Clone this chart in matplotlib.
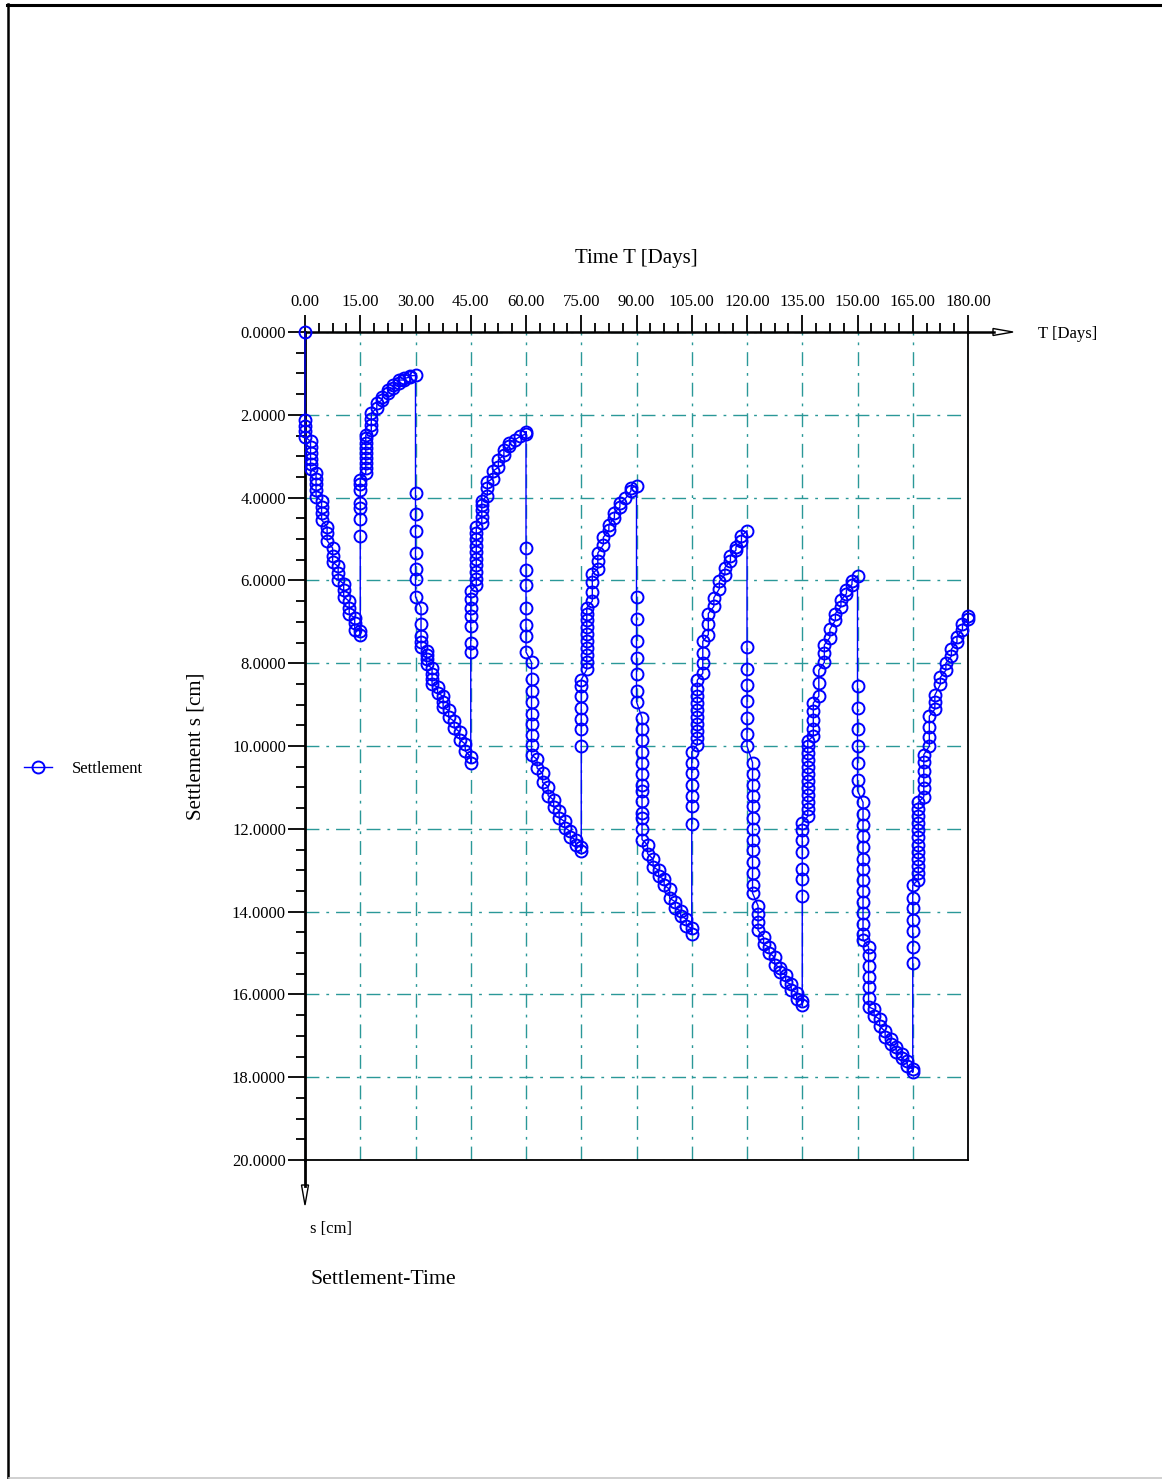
import matplotlib
matplotlib.use("Agg")
import matplotlib.pyplot as plt
from matplotlib.lines import Line2D
from matplotlib.patches import Polygon
from matplotlib.ticker import MultipleLocator, FormatStrFormatter

# ---------------------------------------------------------------------------
# Settlement readings [cm], grouped by time step [days] for each load stage
# ---------------------------------------------------------------------------
loading_1 = {
    0.0: [0.00, 2.13, 2.27, 2.39, 2.53],
    1.5: [2.64, 2.78, 2.92, 3.06, 3.20, 3.30],
    3.0: [3.40, 3.54, 3.68, 3.82, 3.98],
    4.5: [4.08, 4.22, 4.38, 4.54],
    6.0: [4.70, 4.86, 5.04],
    7.5: [5.22, 5.40, 5.56],
    9.0: [5.66, 5.82, 5.98],
    10.5: [6.08, 6.24, 6.40],
    12.0: [6.50, 6.66, 6.82],
    13.5: [6.90, 7.04, 7.20],
    15.0: [7.22, 7.32],
}
unloading_1 = {
    15.0: [4.93, 4.52, 4.26, 4.14, 3.82, 3.66, 3.57],
    16.5: [3.41, 3.29, 3.17, 3.05, 2.93, 2.81, 2.69, 2.57, 2.49],
    18.0: [2.37, 2.25, 2.11, 1.96],
    19.5: [1.84, 1.72],
    21.0: [1.64, 1.56],
    22.5: [1.48, 1.40],
    24.0: [1.36, 1.28],
    25.5: [1.22, 1.16],
    27.0: [1.16, 1.12],
    28.5: [1.09, 1.06],
    30.0: [1.05],
}
loading_2 = {
    30.0: [3.88, 4.40, 4.81, 5.33, 5.73, 5.97, 6.40],
    31.5: [6.66, 7.06, 7.34, 7.48, 7.60],
    33.0: [7.70, 7.80, 7.90, 8.03],
    34.5: [8.12, 8.25, 8.39, 8.51],
    36.0: [8.58, 8.72],
    37.5: [8.80, 8.94, 9.07],
    39.0: [9.14, 9.31],
    40.5: [9.40, 9.56],
    42.0: [9.66, 9.85],
    43.5: [9.95, 10.12],
    45.0: [10.26, 10.40],
}
unloading_2 = {
    45.0: [7.74, 7.50, 7.10, 6.86, 6.66, 6.46, 6.25],
    46.5: [6.12, 5.96, 5.80, 5.64, 5.48, 5.32, 5.16, 5.00, 4.86, 4.72],
    48.0: [4.62, 4.46, 4.30, 4.18, 4.08],
    49.5: [3.95, 3.78, 3.62],
    51.0: [3.54, 3.36],
    52.5: [3.27, 3.08],
    54.0: [2.98, 2.86],
    55.5: [2.76, 2.68],
    57.0: [2.60],
    58.5: [2.52],
    60.0: [2.46, 2.41],
}
loading_3 = {
    60.0: [5.21, 5.74, 6.12, 6.67, 7.08, 7.35, 7.73],
    61.5: [7.98, 8.38, 8.66, 8.94, 9.22, 9.47, 9.73, 9.98, 10.22],
    63.0: [10.32, 10.53],
    64.5: [10.66, 10.88],
    66.0: [10.98, 11.20],
    67.5: [11.30, 11.47],
    69.0: [11.56, 11.74],
    70.5: [11.82, 11.97],
    72.0: [12.06, 12.19],
    73.5: [12.27, 12.40],
    75.0: [12.45, 12.54],
}
unloading_3 = {
    75.0: [10.00, 9.60, 9.34, 9.08, 8.80, 8.54, 8.40],
    76.5: [8.15, 7.98, 7.81, 7.64, 7.47, 7.30, 7.13, 6.96, 6.80, 6.66],
    78.0: [6.50, 6.28, 6.05, 5.84],
    79.5: [5.72, 5.52, 5.34],
    81.0: [5.14, 4.96],
    82.5: [4.79, 4.66],
    84.0: [4.49, 4.36],
    85.5: [4.23, 4.13],
    87.0: [4.02],
    88.5: [3.84, 3.77],
    90.0: [3.72],
}
loading_4 = {
    90.0: [6.40, 6.93, 7.47, 7.87, 8.26, 8.67, 8.93],
    91.5: [9.32, 9.59, 9.86, 10.14, 10.40, 10.67, 10.95, 11.08, 11.33,
           11.61, 11.75, 12.00, 12.26],
    93.0: [12.39, 12.60],
    94.5: [12.73, 12.92],
    96.0: [13.00, 13.15],
    97.5: [13.22, 13.36],
    99.0: [13.46, 13.68],
    100.5: [13.76, 13.92],
    102.0: [13.98, 14.10],
    103.5: [14.18, 14.34],
    105.0: [14.40, 14.53],
}
unloading_4 = {
    105.0: [11.88, 11.46, 11.20, 10.95, 10.65, 10.40, 10.14],
    106.5: [9.97, 9.80, 9.64, 9.47, 9.30, 9.13, 8.96, 8.79, 8.62, 8.41],
    108.0: [8.24, 8.00, 7.75, 7.47],
    109.5: [7.31, 7.05, 6.80],
    111.0: [6.63, 6.42],
    112.5: [6.20, 6.02],
    114.0: [5.86, 5.69],
    115.5: [5.53, 5.40],
    117.0: [5.27, 5.19],
    118.5: [5.06, 4.93],
    120.0: [4.80],
}
loading_5 = {
    120.0: [7.60, 8.14, 8.53, 8.92, 9.33, 9.72, 10.00],
    121.5: [10.40, 10.67, 10.95, 11.20, 11.46, 11.74, 12.00, 12.26, 12.52,
            12.81, 13.07, 13.36, 13.55],
    123.0: [13.86, 14.05, 14.25, 14.45],
    124.5: [14.62, 14.79],
    126.0: [14.86, 15.00],
    127.5: [15.10, 15.28],
    129.0: [15.36, 15.47],
    130.5: [15.54, 15.70],
    132.0: [15.76, 15.89],
    133.5: [15.96, 16.10],
    135.0: [16.16, 16.26],
}
unloading_5 = {
    135.0: [13.62, 13.22, 12.96, 12.56, 12.27, 12.04, 11.86],
    136.5: [11.70, 11.53, 11.36, 11.19, 11.02, 10.85, 10.68, 10.51, 10.34,
            10.17, 10.00, 9.88],
    138.0: [9.76, 9.58, 9.38, 9.16, 8.96],
    139.5: [8.80, 8.47, 8.17],
    141.0: [7.98, 7.76, 7.56],
    142.5: [7.38, 7.18],
    144.0: [6.96, 6.80],
    145.5: [6.64, 6.48],
    147.0: [6.32, 6.24],
    148.5: [6.10, 6.02],
    150.0: [5.89],
}
loading_6 = {
    150.0: [8.54, 9.08, 9.60, 10.00, 10.40, 10.82, 11.08],
    151.5: [11.36, 11.64, 11.91, 12.18, 12.45, 12.72, 12.97, 13.24, 13.51,
            13.78, 14.04, 14.29, 14.55, 14.68],
    153.0: [14.85, 15.06, 15.32, 15.57, 15.83, 16.09, 16.30],
    154.5: [16.36, 16.51],
    156.0: [16.60, 16.77],
    157.5: [16.89, 17.02],
    159.0: [17.08, 17.19],
    160.5: [17.28, 17.40],
    162.0: [17.45, 17.53],
    163.5: [17.62, 17.74],
    165.0: [17.80, 17.88],
}
unloading_6 = {
    165.0: [15.23, 14.85, 14.47, 14.21, 13.91, 13.66, 13.36],
    166.5: [13.23, 13.06, 12.89, 12.72, 12.55, 12.38, 12.21, 12.04, 11.87,
            11.70, 11.53, 11.36],
    168.0: [11.23, 11.02, 10.81, 10.60, 10.38, 10.21],
    169.5: [10.00, 9.79, 9.53, 9.28],
    171.0: [9.11, 8.94, 8.77],
    172.5: [8.51, 8.34],
    174.0: [8.17, 8.00],
    175.5: [7.83, 7.66],
    177.0: [7.49, 7.36],
    178.5: [7.19, 7.06],
    180.0: [6.94, 6.85],
}

stages = [loading_1, unloading_1, loading_2, unloading_2, loading_3,
          unloading_3, loading_4, unloading_4, loading_5, unloading_5,
          loading_6, unloading_6]

time_days, settlement_cm = [], []
for stage in stages:
    for day, values in stage.items():
        for v in values:
            time_days.append(day)
            settlement_cm.append(v)

x_ticks = [0, 15, 30, 45, 60, 75, 90, 105, 120, 135, 150, 165, 180]
y_ticks = [0, 2, 4, 6, 8, 10, 12, 14, 16, 18, 20]

# ---------------------------------------------------------------------------
W, H = 1162, 1479
SERIF = "Liberation Serif"
plt.rcParams["font.family"] = [SERIF, "DejaVu Serif"]
plt.rcParams["mathtext.fontset"] = "stix"

fig = plt.figure(figsize=(W / 100, H / 100), dpi=100)
fig.patch.set_facecolor("white")


def fx(x):
    return x / W


def fy(y):
    return 1 - y / H


ax_left, ax_right, ax_top, ax_bottom = 305, 968, 332, 1160
ax = fig.add_axes([fx(ax_left), fy(ax_bottom),
                   (ax_right - ax_left) / W, (ax_bottom - ax_top) / H])

BLUE = "#0000ff"
ax.plot(time_days, settlement_cm, color=BLUE, lw=1.0, marker="o", ms=8.6,
        mfc="none", mec=BLUE, mew=1.4, clip_on=False, zorder=4,
        label="Settlement")

ax.set_xlim(0, 180)
ax.set_ylim(20, 0)

ax.xaxis.tick_top()
ax.xaxis.set_major_locator(MultipleLocator(15))
ax.xaxis.set_minor_locator(MultipleLocator(3.75))
ax.xaxis.set_major_formatter(FormatStrFormatter("%.2f"))
ax.yaxis.set_major_locator(MultipleLocator(2))
ax.yaxis.set_minor_locator(MultipleLocator(0.5))
ax.yaxis.set_major_formatter(FormatStrFormatter("%.4f"))
ax.set_xticks(x_ticks)
ax.set_yticks(y_ticks)

ax.tick_params(axis="x", which="major", direction="out", length=12.2,
               width=1.3, pad=3.5, labelsize=12, colors="black")
ax.tick_params(axis="x", which="minor", direction="out", length=6.2, width=1.3)
ax.tick_params(axis="y", which="major", direction="out", length=12.2,
               width=1.3, pad=1.5, labelsize=12)
ax.tick_params(axis="y", which="minor", direction="out", length=6.2, width=1.3)

for lab in ax.get_xticklabels() + ax.get_yticklabels():
    lab.set_fontfamily(SERIF)

ax.grid(True, which="major", color="#2a9898", lw=1.0,
        linestyle=(0, (10, 5, 2, 5)), zorder=1)
ax.set_axisbelow(True)

ax.spines["left"].set_linewidth(2.0)
ax.spines["top"].set_linewidth(1.8)
ax.spines["right"].set_linewidth(1.3)
ax.spines["bottom"].set_linewidth(1.3)
for sp in ax.spines.values():
    sp.set_color("black")

# Axis arrows (time to the right, settlement downward)
fig.add_artist(Line2D([fx(ax_right), fx(994)], [fy(ax_top), fy(ax_top)],
                      color="black", lw=1.8))
fig.add_artist(Polygon([(fx(993), fy(ax_top - 3.5)), (fx(1013), fy(ax_top)),
                        (fx(993), fy(ax_top + 3.5))], closed=True,
                       fc="white", ec="black", lw=1.0,
                       transform=fig.transFigure))
fig.add_artist(Line2D([fx(ax_left), fx(ax_left)], [fy(ax_bottom), fy(1186)],
                      color="black", lw=2.0))
fig.add_artist(Polygon([(fx(ax_left - 3.5), fy(1185)), (fx(ax_left), fy(1205)),
                        (fx(ax_left + 3.5), fy(1185))], closed=True,
                       fc="white", ec="black", lw=1.0,
                       transform=fig.transFigure))

# Axis titles and captions
fig.text(fx(636), fy(259), "Time T [Days]", ha="center", va="center",
         fontsize=15, family=SERIF)
fig.text(fx(1038), fy(334), "T [Days]", ha="left", va="center",
         fontsize=12, family=SERIF)
fig.text(fx(196), fy(746), "Settlement s [cm]", ha="center", va="center",
         rotation=90, fontsize=15, family=SERIF)
fig.text(fx(310), fy(1229), "s [cm]", ha="left", va="center",
         fontsize=12, family=SERIF)
fig.text(fx(310), fy(1280), "Settlement-Time", ha="left", va="center",
         fontsize=15.7, family=SERIF)

# Legend
fig.legend(handles=ax.get_lines(), labels=["Settlement"], loc="center left",
           bbox_to_anchor=(fx(24), fy(769)), bbox_transform=fig.transFigure,
           frameon=False, numpoints=1, handlelength=1.65, handletextpad=1.2,
           borderpad=0, borderaxespad=0, prop={"family": SERIF, "size": 12})

# Page frame
fig.add_artist(Line2D([fx(8), fx(8)], [fy(4), fy(H)], color="black", lw=1.8))
fig.add_artist(Line2D([fx(7), fx(W)], [fy(5), fy(5)], color="black", lw=2.2))
fig.add_artist(Line2D([fx(9), fx(W)], [fy(1477.5), fy(1477.5)],
                      color="#c8c8c8", lw=1.2))

fig.savefig("out.png", dpi=100)
